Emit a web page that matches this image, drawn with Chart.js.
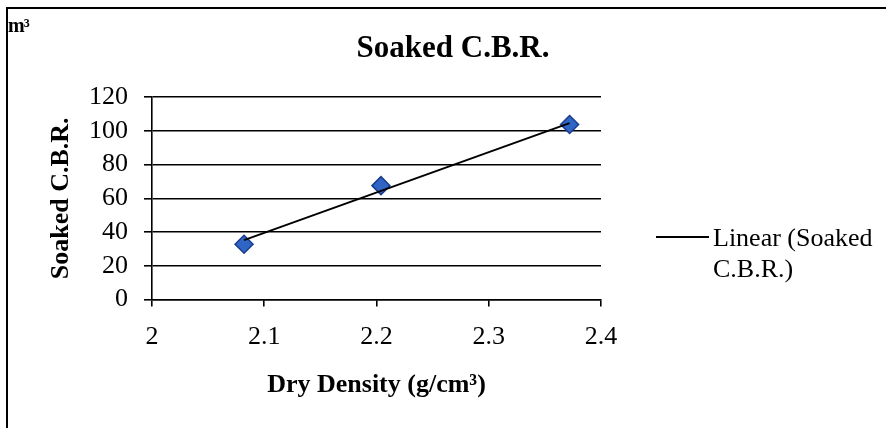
<!DOCTYPE html>
<html>
<head>
<meta charset="utf-8">
<script src="https://cdn.jsdelivr.net/npm/chart.js@4.4.1/dist/chart.umd.min.js"></script>
<style>
  html, body { margin: 0; padding: 0; background: #fff; }
  #wrap { position: relative; width: 886px; height: 428px; overflow: hidden; background: #fff; }
  #frame { position: absolute; left: 6px; top: 7px; width: 900px; height: 440px;
           border-left: 2px solid #000; border-top: 2px solid #000; box-sizing: border-box; }
  #c { position: absolute; left: 0; top: 0; }
  .serif { font-family: "Liberation Serif", "Times New Roman", serif; color: #000; }
  #title { position: absolute; left: 0; width: 906px; top: 28px; text-align: center;
           font-size: 31px; font-weight: bold; line-height: 37px; }
  #corner { position: absolute; left: 8px; top: 14px; font-size: 20px; font-weight: bold; line-height: 22px; letter-spacing: -1px; }
  #legend { position: absolute; left: 656px; top: 222px; }
  #legend .sample { position: absolute; left: 0; top: 14px; width: 53px; height: 2px; background: #000; }
  #legend .txt { position: absolute; left: 57px; top: 0; font-size: 26px; line-height: 31px; white-space: nowrap; }
</style>
</head>
<body>
<div id="wrap">
  <canvas id="c" width="886" height="428"></canvas>
  <div id="frame"></div>
  <div id="corner" class="serif">m³</div>
  <div id="title" class="serif">Soaked C.B.R.</div>
  <div id="legend" class="serif">
    <div class="sample"></div>
    <div class="txt">Linear (Soaked<br>C.B.R.)</div>
  </div>
</div>
<script>
// ---- data ----
const dryDensity = [2.082, 2.204, 2.372];      // g/cm³
const soakedCBR  = [32.8, 67.5, 103.7];        // Soaked C.B.R.
const trendX     = [2.082, 2.372];             // linear trendline ends
const trendY     = [35.2, 104.5];
const xTicks     = [2, 2.1, 2.2, 2.3, 2.4];
const yTicks     = [0, 20, 40, 60, 80, 100, 120];

const FONT = '"Liberation Serif", "Times New Roman", serif';

const points = dryDensity.map((x, i) => ({ x: x, y: soakedCBR[i] }));
const trend  = trendX.map((x, i) => ({ x: x, y: trendY[i] }));

new Chart(document.getElementById('c'), {
  type: 'scatter',
  data: {
    datasets: [
      {
        label: 'Soaked C.B.R.',
        data: points,
        pointStyle: 'rectRot',
        pointRadius: 9,
        pointHoverRadius: 9,
        backgroundColor: '#2f66c6',
        borderColor: '#1a3c8e',
        borderWidth: 1.5,
        order: 2
      },
      {
        label: 'Linear (Soaked C.B.R.)',
        type: 'line',
        data: trend,
        showLine: true,
        borderColor: '#000',
        borderWidth: 2,
        pointRadius: 0,
        fill: false,
        order: 1
      }
    ]
  },
  options: {
    responsive: false,
    animation: false,
    layout: { padding: { left: 40, right: 285, top: 97, bottom: 27 } },
    plugins: {
      legend: { display: false },
      title: { display: false },
      tooltip: { enabled: false }
    },
    scales: {
      x: {
        type: 'linear',
        min: 2, max: 2.4,
        afterBuildTicks: (s) => { s.ticks = xTicks.map(v => ({ value: v })); },
        grid: { drawOnChartArea: false, drawTicks: true, tickLength: 7, color: '#000', lineWidth: 1.6 },
        border: { display: true, color: '#000', width: 1.6 },
        ticks: { font: { family: FONT, size: 26 }, color: '#000', padding: 15, autoSkip: false, maxRotation: 0,
                 callback: (v) => String(Math.round(v * 10) / 10) },
        title: { display: true, text: 'Dry Density (g/cm³)', color: '#000',
                 font: { family: FONT, size: 26, weight: 'bold' }, padding: { top: 2, bottom: 0 } }
      },
      y: {
        min: 0, max: 120,
        afterBuildTicks: (s) => { s.ticks = yTicks.map(v => ({ value: v })); },
        afterFit: (s) => { s.width = 112; },
        grid: { drawOnChartArea: true, drawTicks: true, tickLength: 8, color: '#000', lineWidth: 1.6 },
        border: { display: true, color: '#000', width: 1.6 },
        ticks: { font: { family: FONT, size: 26 }, color: '#000', padding: 16, autoSkip: false },
        title: { display: true, text: 'Soaked C.B.R.', color: '#000',
                 font: { family: FONT, size: 26, weight: 'bold' }, padding: { top: 6, bottom: 0 } }
      }
    }
  }
});
</script>
</body>
</html>
